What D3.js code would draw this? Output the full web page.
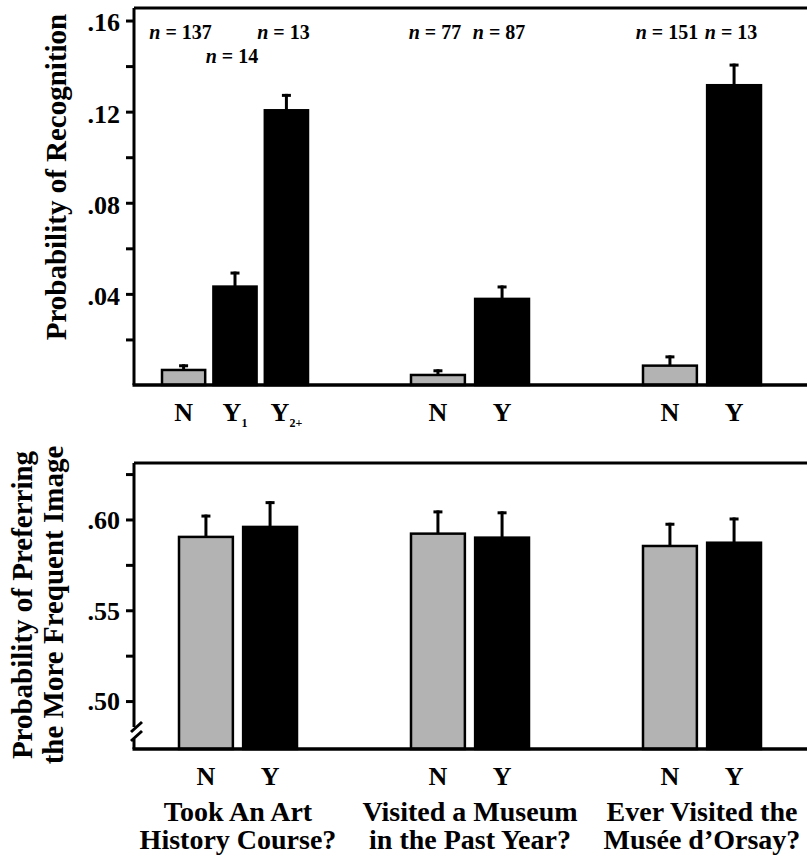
<!DOCTYPE html>
<html>
<head>
<meta charset="utf-8">
<script src="https://cdn.jsdelivr.net/npm/d3@7"></script>
<style>
    body { margin: 0; background: #fff; }
    text { font-family: "Liberation Serif", "Times New Roman", serif; font-weight: bold; }
</style>
</head>
<body>
<script>
const width = 807;
const height = 856;

// Groups (questions) shared by both panels
const groupTitles = [
    ["Took An Art", "History Course?"],
    ["Visited a Museum", "in the Past Year?"],
    ["Ever Visited the", "Musée d’Orsay?"]
];

// Top panel: probability of recognition
const recogCategories = [["N", "Y1", "Y2+"], ["N", "Y"], ["N", "Y"]];
const recogMeans = [[0.0066, 0.0432, 0.1206], [0.0044, 0.0378], [0.0085, 0.1316]];
const recogErrors = [[0.0025, 0.0066, 0.0072], [0.0025, 0.0059], [0.0045, 0.0095]];
const recogN = [[137, 14, 13], [77, 87], [151, 13]];
const recogTicks = [0.04, 0.08, 0.12, 0.16];
const recogMinorTicks = [0.02, 0.06, 0.10, 0.14];

// Bottom panel: probability of preferring the more frequent image
const prefCategories = [["N", "Y"], ["N", "Y"], ["N", "Y"]];
const prefMeans = [[0.5904, 0.5959], [0.5922, 0.5900], [0.5854, 0.5872]];
const prefErrors = [[0.0123, 0.0142], [0.0128, 0.0145], [0.0128, 0.0139]];
const prefTicks = [0.50, 0.55, 0.60];
const prefMinorTicks = [0.525, 0.575, 0.625];

const gray = "#b3b3b3";
const axisLeftX = 134;

let svg = d3.select("body")
    .append("svg")
    .attr("width", width)
    .attr("height", height);

// Group positions are the same for both panels
let xGroup = d3.scaleBand()
    .domain(d3.range(groupTitles.length))
    .range([122, 818]);

function innerScale(cats) {
    // the three-bar group is a bit wider and sits slightly to the left
    let w = cats.length > 2 ? 146 : 118;
    let shift = cats.length > 2 ? -3 : 0;
    return d3.scaleBand()
        .domain(cats)
        .range([-w / 2 + shift, w / 2 + shift])
        .paddingInner(0.16);
}

function rows(categories, means, errors, counts) {
    let out = [];
    categories.forEach((cats, g) => {
        let inner = innerScale(cats);
        cats.forEach((c, i) => {
            out.push({
                group: g,
                index: i,
                size: cats.length,
                cat: c,
                mean: means[g][i],
                err: errors[g][i],
                n: counts ? counts[g][i] : null,
                x: xGroup(g) + xGroup.bandwidth() / 2 + inner(c),
                w: inner.bandwidth()
            });
        });
    });
    return out;
}

function drawPanel(opts) {
    let y = opts.y;
    let [bottom, top] = y.range();
    let g = svg.append("g");

    // major + minor ticks
    let major = d3.axisLeft(y)
        .tickValues(opts.ticks)
        .tickSize(8)
        .tickPadding(6)
        .tickFormat(d => d3.format(".2f")(d).replace(/^0/, ""));
    let minor = d3.axisLeft(y)
        .tickValues(opts.minor)
        .tickSize(8)
        .tickFormat("");

    [major, minor].forEach(ax => {
        let a = g.append("g")
            .attr("transform", `translate(${axisLeftX},0)`)
            .call(ax);
        a.select(".domain").remove();
        a.selectAll(".tick line").attr("stroke", "#000").attr("stroke-width", 3);
        a.selectAll(".tick text")
            .attr("font-size", 26)
            .attr("fill", "#000")
            .attr("dy", opts.tickDy);
    });

    // frame: top line
    g.append("line")
        .attr("x1", axisLeftX).attr("x2", width)
        .attr("y1", top).attr("y2", top)
        .attr("stroke", "#000").attr("stroke-width", 3);

    // bars
    let data = opts.data;
    g.selectAll("rect.bar")
        .data(data)
        .join("rect")
        .attr("class", "bar")
        .attr("x", d => d.x)
        .attr("y", d => y(d.mean))
        .attr("width", d => d.w)
        .attr("height", d => bottom - y(d.mean))
        .attr("fill", d => d.cat === "N" ? gray : "#000")
        .attr("stroke", "#000")
        .attr("stroke-width", 2.5);

    // error bars (upper half only)
    g.selectAll("line.err")
        .data(data)
        .join("line")
        .attr("class", "err")
        .attr("x1", d => d.x + d.w / 2)
        .attr("x2", d => d.x + d.w / 2)
        .attr("y1", d => y(d.mean))
        .attr("y2", d => y(d.mean + d.err))
        .attr("stroke", "#000")
        .attr("stroke-width", 3);
    g.selectAll("line.cap")
        .data(data)
        .join("line")
        .attr("class", "cap")
        .attr("x1", d => d.x + d.w / 2 - 4.5)
        .attr("x2", d => d.x + d.w / 2 + 4.5)
        .attr("y1", d => y(d.mean + d.err) + 1.5)
        .attr("y2", d => y(d.mean + d.err) + 1.5)
        .attr("stroke", "#000")
        .attr("stroke-width", 3);

    // bottom axis line
    g.append("line")
        .attr("x1", axisLeftX - 1.5).attr("x2", width)
        .attr("y1", bottom).attr("y2", bottom)
        .attr("stroke", "#000").attr("stroke-width", 3.5);

    if (opts.broken) {
        // left axis with a break near the bottom
        let b = bottom - 18;
        g.append("line")
            .attr("x1", axisLeftX).attr("x2", axisLeftX)
            .attr("y1", top).attr("y2", b - 4)
            .attr("stroke", "#000").attr("stroke-width", 3);
        g.append("line")
            .attr("x1", axisLeftX).attr("x2", axisLeftX)
            .attr("y1", b + 8).attr("y2", bottom)
            .attr("stroke", "#000").attr("stroke-width", 3);
        [0, 9].forEach(off => {
            g.append("line")
                .attr("x1", axisLeftX - 3).attr("y1", b + off + 1)
                .attr("x2", axisLeftX + 8).attr("y2", b + off - 9)
                .attr("stroke", "#000").attr("stroke-width", 3);
        });
    } else {
        g.append("line")
            .attr("x1", axisLeftX).attr("x2", axisLeftX)
            .attr("y1", top).attr("y2", bottom)
            .attr("stroke", "#000").attr("stroke-width", 3);
    }

    // category labels under the bars (Y1 / Y2+ get a subscript)
    let labels = g.selectAll("text.cat")
        .data(data)
        .join("text")
        .attr("class", "cat")
        .attr("x", d => d.x + d.w / 2)
        .attr("y", bottom + opts.labelGap)
        .attr("text-anchor", "middle")
        .attr("font-size", 26);
    labels.append("tspan").text(d => d.cat.charAt(0));
    labels.filter(d => d.cat.length > 1)
        .append("tspan")
        .attr("font-size", 12)
        .attr("dy", 6)
        .text(d => d.cat.slice(1));

    // sample sizes
    let nData = data.filter(d => d.n !== null);
    let nText = g.selectAll("text.n")
        .data(nData)
        .join("text")
        .attr("class", "n")
        .attr("x", d => d.x + d.w / 2 - 3)
        .attr("y", d => top + 31 + (d.size > 2 && d.index === 1 ? 24 : 0))
        .attr("text-anchor", "middle")
        .attr("font-size", 20);
    nText.append("tspan").attr("font-style", "italic").text("n");
    nText.append("tspan").text(d => ` = ${d.n}`);

    // y axis title
    let title = g.append("text")
        .attr("transform", `translate(0, ${opts.titleY}) rotate(-90)`)
        .attr("text-anchor", "middle")
        .attr("font-size", 29);
    opts.title.forEach((line, i) => {
        title.append("tspan")
            .attr("x", 0)
            .attr("y", opts.titleX[i])
            .text(line);
    });
}

let recogY = d3.scaleLinear()
    .domain([0, 0.1655])
    .range([385, 8]);

drawPanel({
    y: recogY,
    ticks: recogTicks,
    minor: recogMinorTicks,
    data: rows(recogCategories, recogMeans, recogErrors, recogN),
    broken: false,
    labelGap: 36,
    tickDy: "0.4em",
    title: ["Probability of Recognition"],
    titleX: [66],
    titleY: 177
});

let prefY = d3.scaleLinear()
    .domain([0.4736, 0.6311])
    .range([749, 463]);

drawPanel({
    y: prefY,
    ticks: prefTicks,
    minor: prefMinorTicks,
    data: rows(prefCategories, prefMeans, prefErrors, null),
    broken: true,
    labelGap: 36,
    tickDy: "0.34em",
    title: ["Probability of Preferring", "the More Frequent Image"],
    titleX: [32, 63],
    titleY: 605
});

// group titles under the bottom panel, one text per line
groupTitles.forEach((lines, i) => {
    let cx = xGroup(i) + xGroup.bandwidth() / 2;
    svg.selectAll(`text.group${i}`)
        .data(lines)
        .join("text")
        .attr("class", `group${i}`)
        .attr("x", cx)
        .attr("y", (d, j) => 821 + j * 28)
        .attr("text-anchor", "middle")
        .attr("font-size", 28)
        .text(d => d);
});
</script>
</body>
</html>
